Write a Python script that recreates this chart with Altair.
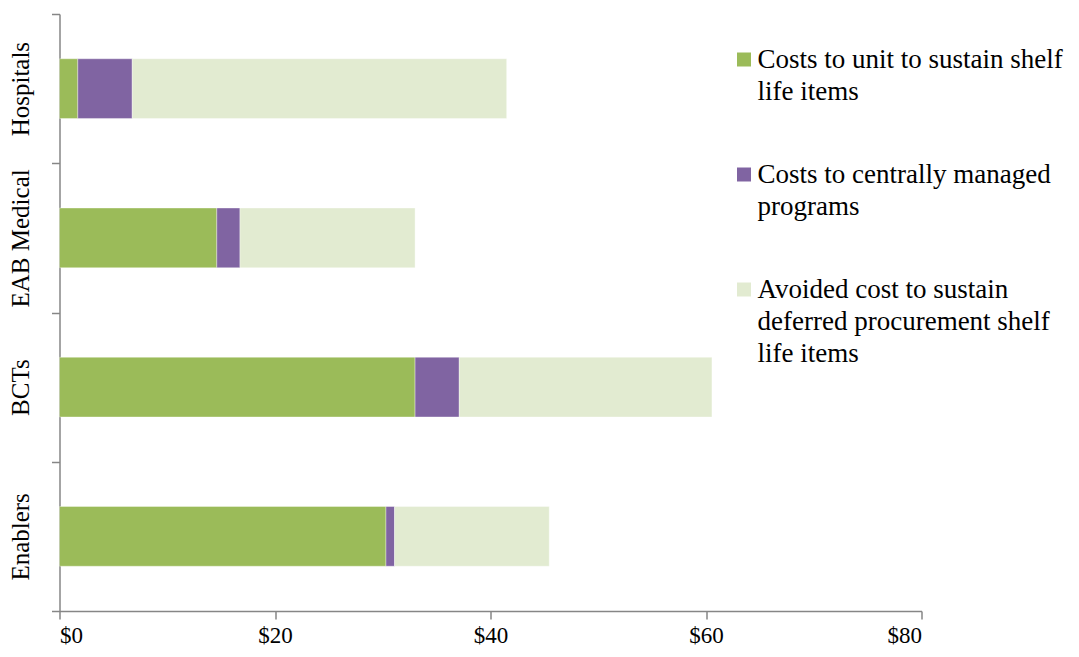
import altair as alt
import pandas as pd

categories = ["Hospitals", "EAB Medical", "BCTs", "Enablers"]
series = [
    "Costs to unit to sustain shelf|life items",
    "Costs to centrally managed|programs",
    "Avoided cost to sustain|deferred procurement shelf|life items",
]
unit_costs = [1.7, 14.6, 33.0, 30.3]
central_costs = [5.05, 2.15, 4.1, 0.8]
avoided_costs = [34.75, 16.25, 23.45, 14.35]
colors = ["#9BBB59", "#8064A2", "#E2EBD1"]
x_ticks = [0, 20, 40, 60, 80]

rows = []
for i, c in enumerate(categories):
    for j, (s, vals) in enumerate(zip(series, [unit_costs, central_costs, avoided_costs])):
        rows.append({"category": c, "series": s, "order": j, "value": vals[i]})
df = pd.DataFrame(rows)

FONT = "Liberation Serif"

chart = (
    alt.Chart(df)
    .mark_bar(height=alt.RelativeBandSize(0.4), stroke="white", strokeWidth=0.6, strokeOpacity=0.6)
    .encode(
        y=alt.Y(
            "category:N",
            sort=categories,
            scale=alt.Scale(paddingInner=0, paddingOuter=0),
            axis=alt.Axis(
                title=None,
                labelAngle=270,
                labelAlign="center",
                labelBaseline="alphabetic",
                labelPadding=23,
                labelFontSize=25,
                labelFont=FONT,
                labelColor="black",
                tickBand="extent",
                tickSize=8,
                tickColor="#868686",
                tickWidth=1.5,
                domainColor="#868686",
                domainWidth=1.5,
                grid=False,
            ),
        ),
        x=alt.X(
            "sum(value):Q",
            stack="zero",
            scale=alt.Scale(domain=[0, 80], nice=False),
            axis=alt.Axis(
                title=None,
                values=x_ticks,
                labelExpr="'$' + datum.value",
                labelFontSize=23,
                labelFont=FONT,
                labelColor="black",
                labelPadding=5,
                tickSize=8,
                tickColor="#868686",
                tickWidth=1.5,
                domainColor="#868686",
                domainWidth=1.5,
                grid=False,
            ),
        ),
        color=alt.Color(
            "series:N",
            scale=alt.Scale(domain=series, range=colors),
            legend=alt.Legend(
                title=None,
                orient="none",
                legendX=671,
                legendY=32,
                symbolType="square",
                symbolSize=196,
                symbolStrokeWidth=0,
                labelExpr="split(datum.label, '|')",
                labelFont=FONT,
                labelFontSize=27,
                labelColor="black",
                labelOffset=0,
                labelLimit=400,
                rowPadding=55,
            ),
        ),
        order=alt.Order("order:Q", sort="ascending"),
    )
    .properties(
        width=862,
        height=597,
        autosize=alt.AutoSizeParams(type="none"),
        padding={"left": 51.5, "top": 6, "right": 149, "bottom": 38},
    )
    .configure(style={"guide-label": {"lineHeight": 32}}, view={"stroke": None})
)

chart.save("out.html", embed_options={"renderer": "svg", "actions": False})
